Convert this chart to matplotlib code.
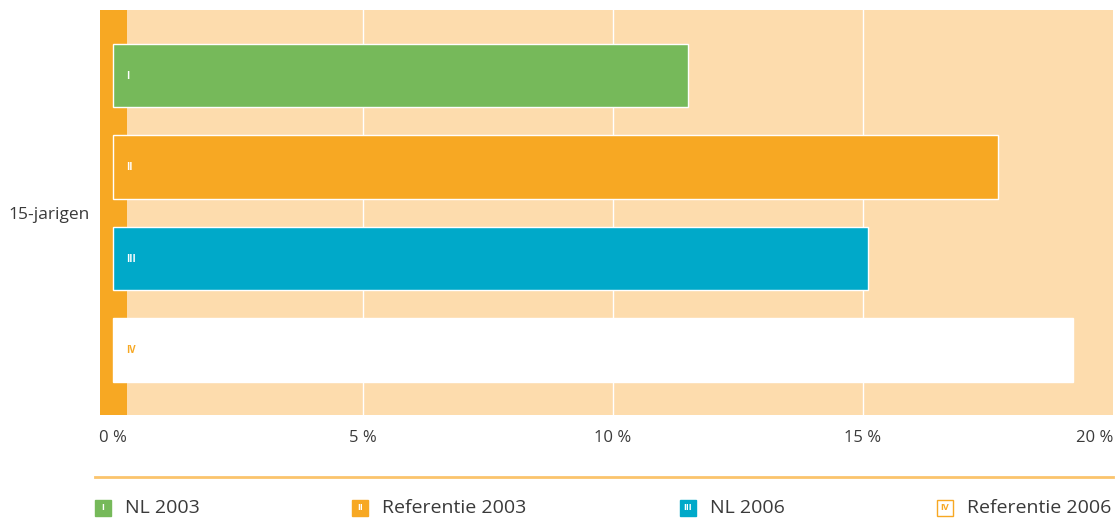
import matplotlib.pyplot as plt
from matplotlib.patches import Rectangle
from matplotlib.lines import Line2D

plt.rcParams['font.family'] = ['Open Sans', 'DejaVu Sans']

series = ["NL 2003", "Referentie 2003", "NL 2006", "Referentie 2006"]
numerals = ["I", "II", "III", "IV"]
values = [11.50, 17.70, 15.11, 19.21]
category = "15-jarigen"
xticks = [0, 5, 10, 15, 20]
xticklabels = ["0 %", "5 %", "10 %", "15 %", "20 %"]

colors = ["#76b95a", "#f7a823", "#00a9c9", "#ffffff"]
label_colors = ["white", "white", "white", "#f7a823"]
orange = "#f7a823"
peach = "#fddcad"
text_col = "#3a3a3a"

W, H = 1117, 521
fig = plt.figure(figsize=(W / 100, H / 100), dpi=100)
ax = fig.add_axes([100 / W, 1 - 415 / H, 1013 / W, 405 / H])

x0 = -13 / 50.1
ax.set_xlim(x0, x0 + 1013 / 50.1)
ax.set_ylim(3 + 65 / 91.5, -65.5 / 91.5)
ax.set_facecolor(peach)
ax.axvspan(x0, 14 / 50.1, color=orange, zorder=1, lw=0)
for g in xticks[1:-1]:
    ax.axvline(g, color="white", lw=1, zorder=1)

ypos = range(len(values))
ax.barh(ypos, values, height=0.69, color=colors, edgecolor="white", linewidth=1, zorder=2)
for y, n, c in zip(ypos, numerals, label_colors):
    ax.text(0.26, y + 0.01, n, color=c, fontsize=7, fontweight="bold", va="center", ha="left", zorder=3)

for s in ax.spines.values():
    s.set_visible(False)
ax.set_yticks([])
ax.set_xticks(xticks)
ax.set_xticklabels(xticklabels, fontsize=12, color=text_col)
ax.tick_params(axis="x", length=0, pad=11)
ax.get_xticklabels()[-1].set_horizontalalignment("right")
ax.get_xticklabels()[-1].set_x(20.0)

fig.text(90 / W, 1 - 215 / H, category, ha="right", va="center", fontsize=12.5, color=text_col)

fig.add_artist(Line2D([95 / W, 1113 / W], [1 - 477 / H, 1 - 477 / H], color="#fbc46c", lw=2))

leg_x = [95, 352, 680, 937]
for lx, name, n, c, lc in zip(leg_x, series, numerals, colors, label_colors):
    ec = orange if c == "#ffffff" else c
    fig.add_artist(Rectangle((lx / W, 1 - 516 / H), 16 / W, 16 / H, facecolor=c, edgecolor=ec, lw=1,
                             transform=fig.transFigure))
    fig.text((lx + 8) / W, 1 - 508 / H, n, ha="center", va="center", fontsize=6.5, fontweight="bold", color=lc)
    fig.text((lx + 30) / W, 1 - 508 / H, name, ha="left", va="center", fontsize=14, color=text_col)

fig.savefig("out.png", dpi=100)
